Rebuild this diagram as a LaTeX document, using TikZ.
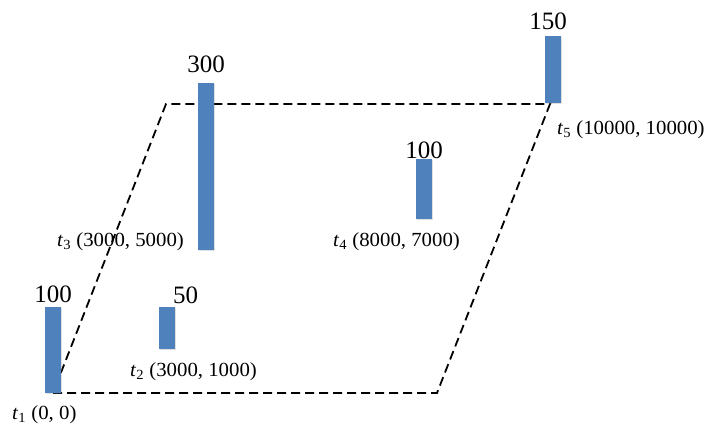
\documentclass[tikz,border=0pt]{standalone}
\usepackage{fontspec}
\setmainfont{Liberation Serif}
\usepackage{xcolor}
\usepackage{tikz}
\usetikzlibrary{positioning,shadows}

\definecolor{barblue}{RGB}{79,129,189}
\newcommand{\tpt}[1]{\textit{t}\textsubscript{#1}}

\begin{document}
\begin{tikzpicture}[
  x=1pt, y=-1pt,
  bar/.style={fill=barblue, minimum width=16pt, inner sep=0pt, anchor=south,
    drop shadow={shadow xshift=0.6pt, shadow yshift=-1.6pt, opacity=0.25}},
  val/.style={font=\fontsize{25}{27}\selectfont, inner sep=0pt},
  loc/.style={font=\fontsize{20}{22}\selectfont, inner sep=0pt, anchor=west, xscale=1.04},
  border/.style={dashed, dash pattern=on 9pt off 5pt, line width=1.8pt}
]
\useasboundingbox (0,0) rectangle (708,430);

% corners of the region
\coordinate (c1) at (53,393);
\coordinate (c2) at (437,393);
\coordinate (c3) at (550,104);
\coordinate (c4) at (166,104);
\draw[border] (c1) -- (c2) -- (c3) -- (c4) -- cycle;

% bars
\node[bar, minimum height=86pt] (b1) at (53,393) {};
\node[bar, minimum height=42pt] (b2) at (167,349) {};
\node[bar, minimum height=167pt] (b3) at (206,250) {};
\node[bar, minimum height=60pt] (b4) at (424,219) {};
\node[bar, minimum height=67pt] (b5) at (553,103) {};

% values
\node[val, above=4pt of b1] (v1) {100};
\node[val, above right=3pt and 6pt of b2.north] (v2) {50};
\node[val, above=10pt of b3] (v3) {300};
\node[val, above=0pt of b4] (v4) {100};
\node[val, above left=6pt and -14pt of b5.north] (v5) {150};

% positions
\node[loc] (p1) at (12,415) {\tpt{1} (0, 0)};
\node[loc] (p2) at (130,372) {\tpt{2} (3000, 1000)};
\node[loc] (p3) at (57,242) {\tpt{3} (3000, 5000)};
\node[loc] (p4) at (333,242) {\tpt{4} (8000, 7000)};
\node[loc] (p5) at (557,130) {\tpt{5} (10000, 10000)};
\end{tikzpicture}
\end{document}
